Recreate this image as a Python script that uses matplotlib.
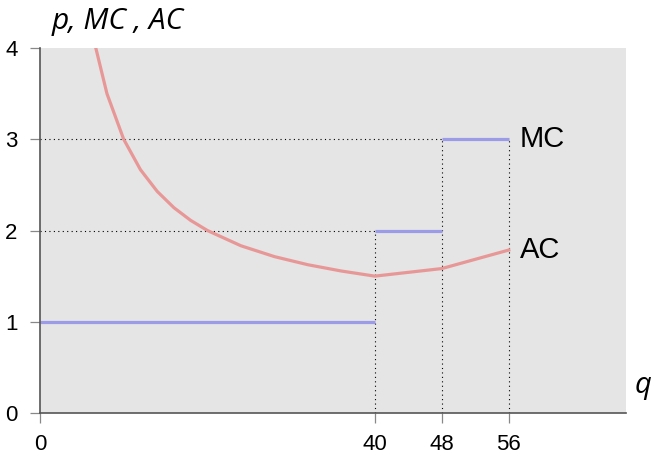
import matplotlib.pyplot as plt

# marginal cost steps (q from, q to, MC)
mc_start = [0, 40, 48]
mc_end = [40, 48, 56]
mc_value = [1, 2, 3]

# average cost
ac_q = [6.67, 8, 10, 12, 14, 16, 18, 20, 24, 28, 32, 36, 40, 48, 56]
ac_value = [4.0, 3.5, 3.0, 2.667, 2.429, 2.25, 2.111, 2.0, 1.833, 1.714, 1.625, 1.556, 1.5, 1.583, 1.786]

x_ticks = [0, 40, 48, 56]
y_ticks = [0, 1, 2, 3, 4]

plt.rcParams['font.family'] = ['Liberation Sans', 'DejaVu Sans']

fig = plt.figure(figsize=(6.51, 4.59), dpi=100)
ax = fig.add_axes([0.0614, 0.1002, 0.9002, 0.7952])
ax.set_facecolor('#e5e5e5')

# dotted guides
ax.plot([40, 40], [0, 2], color='black', lw=0.8, ls=(0, (1, 3)))
ax.plot([0, 40], [2, 2], color='black', lw=0.8, ls=(0, (1, 3)))
ax.plot([48, 48], [0, 3], color='black', lw=0.8, ls=(0, (1, 3)))
ax.plot([0, 48], [3, 3], color='black', lw=0.8, ls=(0, (1, 3)))
ax.plot([56, 56], [0, 3], color='black', lw=0.8, ls=(0, (1, 3)))

for a, b, v in zip(mc_start, mc_end, mc_value):
    ax.plot([a, b], [v, v], color='#9b9be8', lw=2.3, solid_capstyle='butt')

ax.plot(ac_q, ac_value, color='#e89797', lw=2.3)

ax.text(57.3, mc_value[-1], 'MC', fontsize=21, va='center', ha='left')
ax.text(57.3, ac_value[-1], 'AC', fontsize=21, va='center', ha='left')

ax.set_xlim(0, 70)
ax.set_ylim(0, 4)
ax.set_xticks(x_ticks)
ax.set_yticks(y_ticks)
ax.tick_params(axis='both', length=7, width=0.9, color='#888888', labelsize=16)
ax.tick_params(axis='x', pad=8)
ax.tick_params(axis='y', pad=9)

for s in ['top', 'right']:
    ax.spines[s].set_visible(False)
for s in ['left', 'bottom']:
    ax.spines[s].set_color('#555555')
    ax.spines[s].set_linewidth(1.2)

fig.text(52 / 651, 1 - 21 / 459, 'p, MC , AC', fontsize=21.5, va='center', ha='left',
         family='Open Sans', style='italic')
fig.text(643 / 651, 1 - 386 / 459, 'q', fontsize=21, va='center', ha='center',
         family='Open Sans', style='italic')

plt.savefig('out.png', dpi=100)
